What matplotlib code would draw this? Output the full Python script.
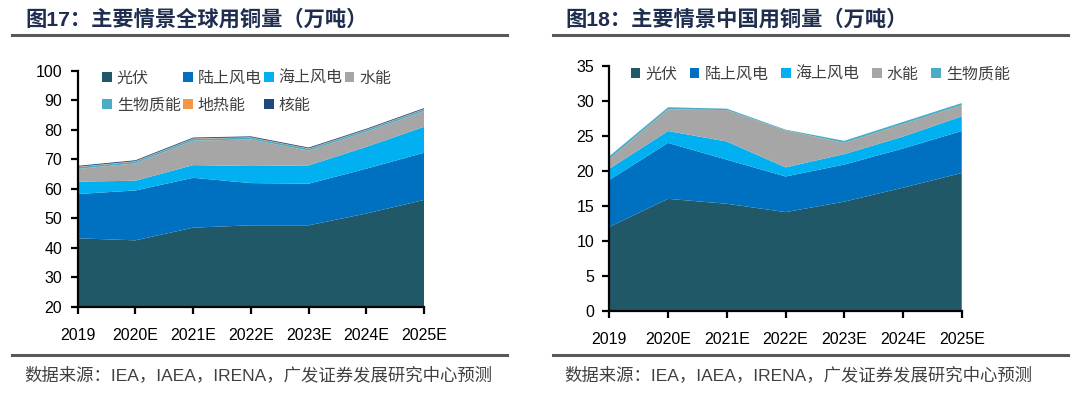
import matplotlib
matplotlib.use('Agg')
from matplotlib import pyplot as plt
from matplotlib.lines import Line2D

plt.rcParams['font.family'] = ['Liberation Sans', 'Noto Sans CJK SC', 'DejaVu Sans']

years = ['2019', '2020E', '2021E', '2022E', '2023E', '2024E', '2025E']

# 图17 全球 (万吨)
world_labels = ['光伏', '陆上风电', '海上风电', '水能', '生物质能', '地热能', '核能']
world_pv = [43.2, 42.5, 46.8, 47.6, 47.6, 51.6, 56.2]
world_onshore = [15.0, 16.9, 16.9, 14.3, 14.1, 15.2, 16.0]
world_offshore = [4.2, 3.3, 4.3, 5.8, 6.2, 7.4, 8.8]
world_hydro = [4.3, 5.9, 8.3, 9.0, 5.0, 5.1, 5.3]
world_bio = [0.6, 0.6, 0.6, 0.6, 0.6, 0.6, 0.6]
world_geo = [0.15, 0.15, 0.15, 0.15, 0.15, 0.15, 0.15]
world_nuclear = [0.3, 0.3, 0.3, 0.3, 0.3, 0.3, 0.3]

# 图18 中国 (万吨)
china_labels = ['光伏', '陆上风电', '海上风电', '水能', '生物质能']
china_pv = [12.0, 16.0, 15.3, 14.1, 15.6, 17.6, 19.7]
china_onshore = [6.7, 8.0, 6.3, 5.1, 5.3, 5.6, 6.0]
china_offshore = [1.6, 1.7, 2.6, 1.3, 1.5, 1.7, 2.1]
china_hydro = [1.4, 3.1, 4.5, 5.3, 1.6, 1.8, 1.6]
china_bio = [0.4, 0.3, 0.2, 0.1, 0.3, 0.3, 0.3]

colors = ['#215868', '#0070C0', '#00B0F0', '#A6A6A6', '#4BACC6', '#F79646', '#1F497D']

title_color = '#1F2D4F'
rule_color = '#595959'
text_color = '#404040'


def style_axis(ax, ylim, yticks):
    ax.set_xlim(0, len(years) - 1)
    ax.set_ylim(*ylim)
    ax.set_yticks(yticks)
    ax.set_xticks(range(len(years)))
    ax.set_xticklabels(years)
    for side in ['top', 'right']:
        ax.spines[side].set_visible(False)
    for side in ['left', 'bottom']:
        ax.spines[side].set_linewidth(1.6)
        ax.spines[side].set_color('black')
        ax.spines[side].set_zorder(5)
    ax.tick_params(axis='both', direction='out', length=5, width=1.6,
                   labelsize=11.5, colors='black')
    ax.tick_params(axis='y', pad=6)
    ax.tick_params(axis='x', pad=10)


def frame(fig, x0, x1, tx, title):
    fig.add_artist(Line2D([x0 / 1080, x1 / 1080], [1 - 35 / 395] * 2,
                          color=rule_color, lw=2.2))
    fig.add_artist(Line2D([x0 / 1080, x1 / 1080], [1 - 355 / 395] * 2,
                          color=rule_color, lw=2.2))
    fig.text(tx / 1080, 1 - 19 / 395, title, fontsize=15.3, fontweight='bold',
             color=title_color, va='center', ha='left')
    fig.text((tx - 1) / 1080, 1 - 375 / 395,
             '数据来源：IEA，IAEA，IRENA，广发证券发展研究中心预测',
             fontsize=12.5, color=text_color, va='center', ha='left')


fig = plt.figure(figsize=(10.8, 3.95), dpi=100)

# left chart
ax1 = fig.add_axes([0.0719, 0.2235, 0.3209, 0.5975])
polys = ax1.stackplot(range(len(years)), world_pv, world_onshore, world_offshore,
                      world_hydro, world_bio, world_geo, world_nuclear,
                      colors=colors, labels=world_labels, linewidth=0)
style_axis(ax1, (20, 100), range(20, 101, 10))
order = [0, 4, 1, 5, 2, 6, 3]
ax1.legend([polys[i] for i in order], [world_labels[i] for i in order],
           ncol=4, loc='upper left', bbox_to_anchor=(0.03, 1.06),
           frameon=False, fontsize=11.5, handlelength=0.6, handleheight=0.6,
           handletextpad=0.3, columnspacing=0.15, labelspacing=0.75,
           labelcolor=text_color)

# right chart
ax2 = fig.add_axes([0.5642, 0.2134, 0.3263, 0.6195])
ax2.stackplot(range(len(years)), china_pv, china_onshore, china_offshore,
              china_hydro, china_bio,
              colors=colors[:5], labels=china_labels, linewidth=0)
style_axis(ax2, (0, 35), range(0, 36, 5))
ax2.legend(ncol=5, loc='upper left', bbox_to_anchor=(0.02, 1.055),
           frameon=False, fontsize=11.5, handlelength=0.6, handleheight=0.6,
           handletextpad=0.3, columnspacing=0.8, labelcolor=text_color)

frame(fig, 12, 507, 25, '图17：主要情景全球用铜量（万吨）')
frame(fig, 553, 1068, 565, '图18：主要情景中国用铜量（万吨）')

plt.savefig('out.png', dpi=100)
